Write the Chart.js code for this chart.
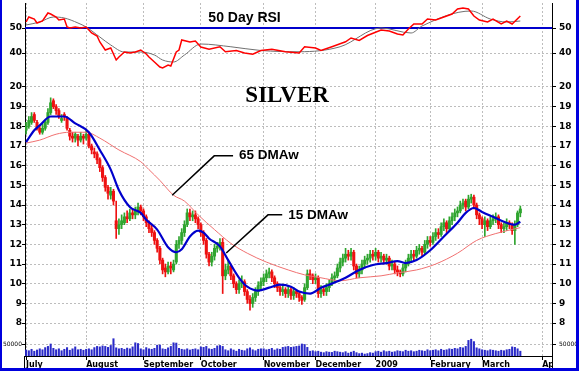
<!DOCTYPE html>
<html lang="en">
<head>
<meta charset="UTF-8">
<title>Silver</title>
<script src="https://cdn.jsdelivr.net/npm/chart.js@4"></script>
<style>
  html, body { margin: 0; padding: 0; background: #fff; }
  #wrap { position: relative; width: 579px; height: 371px; overflow: hidden; background: #fff; }
  #wrap canvas { position: absolute; left: 0; }
  #frame { position: absolute; left: 0; top: 0; width: 579px; height: 371px; box-sizing: border-box;
           border: 3px solid #0000dd; border-top-width: 0; border-left-width: 2px; pointer-events: none; }
</style>
</head>
<body>
<div id="wrap">
  <canvas id="rsiChart" style="top:3px" width="579" height="72"></canvas>
  <canvas id="priceChart" style="top:75px" width="579" height="263"></canvas>
  <canvas id="volChart" style="top:338px" width="579" height="33"></canvas>
  <div id="frame"></div>
</div>

<script>
  // ---------- data (x = trading day, 0 = 1 July 2008) ----------
  const monthStarts = [0, 22, 43, 64, 87, 106, 128, 148, 167, 189];
  const monthNames = ['July', 'August', 'September', 'October', 'November', 'December', '2009', 'February', 'March', 'Apr'];
  const priceTicks = [8, 9, 10, 11, 12, 13, 14, 15, 16, 17, 18, 19, 20];
  const rsiTicks = [40, 50];
  const volTicks = [50000];

  const opens = [
    17.8, 18.0, 18.2, 18.6, 18.2, 17.9, 17.7, 17.9, 18.2, 18.7,
    19.3, 19.0, 18.8, 18.3, 18.6, 18.4, 17.8, 17.5, 17.4, 17.5,
    17.3, 17.5, 17.4, 17.6, 17.0, 16.7, 16.6, 16.3, 15.9, 15.4,
    14.9, 14.5, 14.7, 13.2, 12.8, 13.0, 13.1, 13.4, 13.3, 13.6,
    13.5, 13.7, 13.9, 13.7, 13.4, 13.1, 12.8, 12.6, 12.2, 11.8,
    11.2, 10.8, 10.6, 10.9, 10.7, 11.1, 12.0, 12.2, 12.6, 13.0,
    13.6, 13.4, 13.5, 13.3, 13.0, 12.6, 12.2, 11.5, 11.1, 11.4,
    11.8, 11.9, 12.1, 10.4, 10.7, 10.9, 10.4, 10.0, 9.7, 10.0,
    10.1, 9.6, 9.2, 9.0, 9.3, 9.6, 9.9, 10.1, 10.3, 10.5,
    10.6, 10.3, 10.0, 9.8, 9.6, 9.7, 9.5, 9.7, 9.4, 9.6,
    9.5, 9.3, 9.2, 9.8, 10.5, 10.4, 10.2, 10.3, 9.5, 9.7,
    9.6, 9.8, 10.0, 10.3, 10.4, 10.8, 11.1, 11.3, 11.5, 11.4,
    11.6, 10.9, 10.5, 10.7, 11.0, 11.2, 11.3, 11.5, 11.4, 11.6,
    11.3, 11.4, 11.2, 11.3, 10.9, 11.0, 10.7, 10.6, 10.5, 10.8,
    11.0, 11.3, 11.5, 11.4, 11.7, 11.8, 11.6, 12.0, 12.2, 12.1,
    12.4, 12.6, 12.5, 12.9, 13.1, 12.8, 13.2, 13.4, 13.6, 13.7,
    14.0, 14.2, 13.9, 14.3, 14.4, 14.0, 13.5, 13.3, 13.0, 13.2,
    12.9, 13.2, 13.3, 13.4, 13.0, 12.8, 12.9, 13.1, 13.0, 12.7,
    13.0, 13.6
  ];
  const highs = [
    18.2, 18.5, 18.7, 18.7, 18.3, 18.0, 18.1, 18.3, 18.9, 19.45,
    19.4, 19.1, 18.9, 18.6, 18.7, 18.5, 17.9, 17.7, 17.7, 17.6,
    17.7, 17.6, 17.8, 17.7, 17.1, 16.9, 16.7, 16.4, 16.0, 15.5,
    15.0, 14.9, 14.8, 14.2, 13.3, 13.5, 13.6, 13.7, 13.8, 13.8,
    13.9, 14.1, 14.0, 13.8, 13.5, 13.2, 13.0, 12.7, 12.3, 11.9,
    11.3, 11.0, 11.1, 11.1, 11.2, 12.2, 12.4, 12.8, 13.2, 13.8,
    13.8, 13.7, 13.7, 13.4, 13.1, 12.7, 12.3, 11.6, 11.6, 12.0,
    12.1, 12.3, 12.3, 11.0, 11.2, 11.0, 10.5, 10.1, 10.2, 10.4,
    10.2, 9.7, 9.4, 9.5, 9.8, 10.1, 10.3, 10.5, 10.7, 10.8,
    10.7, 10.4, 10.1, 9.9, 9.9, 9.8, 9.9, 9.8, 9.8, 9.7,
    9.6, 9.4, 10.0, 10.7, 10.7, 10.5, 10.5, 10.4, 9.9, 9.8,
    10.0, 10.2, 10.5, 10.6, 11.0, 11.3, 11.5, 11.8, 11.7, 11.8,
    11.7, 11.0, 10.9, 11.2, 11.4, 11.5, 11.7, 11.7, 11.8, 11.7,
    11.6, 11.5, 11.5, 11.4, 11.2, 11.1, 10.9, 10.7, 11.0, 11.2,
    11.5, 11.7, 11.7, 11.9, 12.0, 11.9, 12.2, 12.4, 12.4, 12.6,
    12.8, 12.8, 13.1, 13.3, 13.2, 13.4, 13.6, 13.8, 13.9, 14.2,
    14.3, 14.3, 14.5, 14.55, 14.5, 14.1, 13.6, 13.4, 13.4, 13.3,
    13.4, 13.5, 13.6, 13.5, 13.1, 13.1, 13.3, 13.2, 13.1, 13.2,
    13.7, 13.95
  ];
  const lows = [
    17.6, 17.9, 18.1, 18.2, 17.8, 17.6, 17.6, 17.8, 18.1, 18.6,
    18.9, 18.6, 18.4, 18.2, 18.3, 17.8, 17.3, 17.2, 17.2, 17.0,
    17.2, 17.1, 17.3, 16.9, 16.6, 16.4, 16.1, 15.7, 15.2, 14.7,
    14.3, 14.3, 14.0, 12.3, 12.5, 12.8, 13.0, 13.1, 13.2, 13.3,
    13.3, 13.5, 13.5, 13.2, 12.9, 12.6, 12.4, 12.0, 11.6, 11.0,
    10.5, 10.35, 10.5, 10.5, 10.6, 11.0, 11.8, 12.0, 12.4, 12.9,
    13.2, 13.2, 13.1, 12.8, 12.4, 12.0, 11.3, 10.9, 10.9, 11.2,
    11.6, 11.7, 9.5, 10.2, 10.5, 10.2, 9.8, 9.5, 9.5, 9.8,
    9.4, 9.0, 8.65, 8.8, 9.1, 9.4, 9.7, 9.9, 10.1, 10.3,
    10.1, 9.8, 9.6, 9.4, 9.4, 9.3, 9.3, 9.2, 9.2, 9.3,
    9.1, 8.95, 9.1, 9.7, 10.2, 10.0, 10.0, 9.3, 9.3, 9.4,
    9.4, 9.6, 9.9, 10.1, 10.3, 10.6, 10.9, 11.1, 11.2, 11.2,
    10.7, 10.3, 10.3, 10.5, 10.8, 11.0, 11.1, 11.2, 11.2, 11.1,
    11.1, 11.0, 11.0, 10.7, 10.7, 10.5, 10.4, 10.35, 10.4, 10.6,
    10.9, 11.1, 11.2, 11.3, 11.5, 11.4, 11.5, 11.8, 11.9, 12.0,
    12.2, 12.3, 12.4, 12.7, 12.6, 12.7, 13.0, 13.2, 13.4, 13.6,
    13.8, 13.7, 13.8, 14.1, 13.8, 13.3, 13.0, 12.8, 12.4, 12.7,
    12.8, 13.0, 13.1, 12.8, 12.6, 12.6, 12.7, 12.8, 12.5, 12.0,
    12.9, 13.4
  ];
  const closes = [
    18.0, 18.3, 18.5, 18.3, 17.9, 17.7, 17.9, 18.2, 18.7, 19.2,
    19.0, 18.8, 18.5, 18.4, 18.5, 17.9, 17.5, 17.4, 17.6, 17.3,
    17.5, 17.4, 17.6, 17.0, 16.8, 16.6, 16.3, 15.9, 15.4, 14.9,
    14.6, 14.7, 14.2, 12.8, 13.0, 13.2, 13.4, 13.3, 13.6, 13.5,
    13.7, 13.9, 13.7, 13.4, 13.1, 12.8, 12.6, 12.2, 11.8, 11.2,
    10.7, 10.6, 10.9, 10.8, 11.0, 12.0, 12.2, 12.6, 13.0, 13.6,
    13.4, 13.5, 13.3, 13.0, 12.6, 12.2, 11.5, 11.1, 11.4, 11.8,
    11.9, 12.1, 10.4, 10.7, 10.9, 10.4, 10.0, 9.7, 10.0, 10.1,
    9.6, 9.2, 9.0, 9.3, 9.6, 9.9, 10.1, 10.3, 10.5, 10.6,
    10.3, 10.0, 9.8, 9.6, 9.7, 9.5, 9.7, 9.4, 9.6, 9.5,
    9.3, 9.15, 9.8, 10.5, 10.4, 10.2, 10.3, 9.5, 9.7, 9.6,
    9.8, 10.0, 10.3, 10.4, 10.8, 11.1, 11.3, 11.5, 11.4, 11.6,
    10.9, 10.5, 10.7, 11.0, 11.2, 11.3, 11.5, 11.4, 11.6, 11.3,
    11.4, 11.2, 11.3, 10.9, 11.0, 10.7, 10.6, 10.5, 10.8, 11.0,
    11.3, 11.5, 11.4, 11.7, 11.8, 11.6, 12.0, 12.2, 12.1, 12.4,
    12.6, 12.5, 12.9, 13.1, 12.8, 13.2, 13.4, 13.6, 13.7, 14.0,
    14.1, 13.9, 14.3, 14.4, 14.0, 13.5, 13.3, 13.0, 13.2, 12.9,
    13.2, 13.3, 13.4, 13.0, 12.8, 12.9, 13.1, 13.0, 12.7, 13.0,
    13.6, 13.8
  ];
  const volumes = [
    25000, 22000, 28000, 20000, 25000, 30000, 26000, 35000, 40000, 50000, 32000, 26000, 30000, 22000, 28000, 35000, 24000, 30000, 38000, 26000, 28000, 24000,
    28000, 30000, 26000, 35000, 40000, 38000, 42000, 40000, 36000, 44000, 72000, 34000, 30000, 32000, 28000, 33000, 30000, 38000, 55000, 52000, 30000, 26000,
    35000, 30000, 28000, 32000, 45000, 46000, 30000, 28000, 34000, 40000, 55000, 54000, 32000, 28000, 26000, 30000, 25000, 28000, 30000, 26000,
    38000, 36000, 40000, 30000, 28000, 32000, 42000, 44000, 40000, 26000, 22000, 30000, 25000, 20000, 28000, 24000, 22000, 30000, 34000, 26000, 22000, 28000, 30000,
    30000, 26000, 28000, 32000, 25000, 30000, 28000, 36000, 38000, 40000, 36000, 38000, 40000, 42000, 50000, 48000, 36000, 20000, 22000,
    18000, 20000, 16000, 14000, 18000, 16000, 15000, 20000, 18000, 16000, 14000, 18000, 12000, 16000, 20000, 14000, 10000, 12000, 8000, 10000, 14000, 12000,
    18000, 20000, 16000, 22000, 18000, 20000, 16000, 18000, 22000, 20000, 18000, 24000, 20000, 22000, 18000, 20000, 24000, 22000, 20000, 26000,
    22000, 24000, 26000, 22000, 28000, 24000, 26000, 30000, 28000, 32000, 30000, 36000, 34000, 40000, 65000, 70000, 60000, 34000, 30000,
    26000, 24000, 22000, 26000, 24000, 22000, 20000, 24000, 22000, 26000, 28000, 38000, 36000, 30000, 20000
  ];

  const dma15Days = [0, 3, 5, 9, 14, 18, 23, 27, 31, 34, 38, 42, 44, 48, 52, 55, 57, 60, 63, 65, 67, 71, 74, 78, 81, 85, 89, 93, 97, 100,
    104, 108, 111, 117, 122, 127, 132, 136, 139, 143, 148, 153, 158, 161, 164, 167, 171, 175, 179, 181];
  const dma15 = [17.2, 17.8, 18.05, 18.5, 18.5, 18.15, 17.7, 16.8, 15.8, 14.75, 13.9, 13.6, 13.25, 12.75, 11.85, 11.6, 11.75, 12.4, 12.7, 12.6,
    12.3, 11.9, 11.2, 10.3, 9.85, 9.65, 9.8, 9.95, 9.85, 9.6, 9.5, 9.8, 9.95, 10.3, 10.7, 10.95, 11.05, 11.15, 11.05, 11.2,
    11.7, 12.4, 13.1, 13.6, 13.85, 13.65, 13.4, 13.15, 13.0, 13.15];
  const dma65Days = [0, 5, 11, 16, 22, 27, 34, 42, 45, 49, 54, 58, 63, 69, 75, 81, 88, 96, 102, 108, 115, 122, 130, 136, 143, 150, 158, 165, 172, 181];
  const dma65 = [17.15, 17.3, 17.6, 17.7, 17.7, 17.4, 16.8, 16.2, 15.8, 15.25, 14.5, 14.2, 13.5, 12.75, 12.05, 11.55, 11.1, 10.7, 10.45, 10.3,
    10.15, 10.3, 10.4, 10.55, 10.7, 11.0, 11.55, 12.2, 12.55, 12.85];

  const rsiDays = [0, 1, 3, 4, 6, 8, 9, 11, 12, 14, 15, 16, 18, 20, 22, 24, 26, 27, 29, 31, 33, 34, 36, 38, 40, 42, 44, 45, 47, 49,
    50, 52, 53, 55, 56, 57, 60, 62, 64, 67, 71, 73, 77, 80, 83, 86, 90, 95, 100, 102, 106, 108, 112, 117, 119, 122, 125, 130, 133, 136,
    138, 140, 142, 145, 147, 150, 153, 156, 158, 160, 162, 164, 166, 169, 171, 174, 176, 178, 181];
  const rsi = [52.4, 54.4, 53.6, 52, 52.8, 56, 55.6, 54.4, 53.2, 53.6, 50.4, 50, 50.4, 50, 50.4, 48, 46.8, 44.4, 41.2, 42,
    37.2, 38.4, 40.4, 40, 40.4, 41.2, 39.6, 38.4, 36.4, 34.4, 34, 35.2, 34.8, 40.4, 41.2, 45.2, 44.4, 44.8, 42.4, 41.5,
    42.5, 40.5, 41, 40, 39.5, 41, 41.5, 40.5, 40, 42.5, 42, 41, 42.5, 44.5, 46, 45, 47, 49.2, 48.8, 47.6,
    47.2, 49.6, 51.6, 51.6, 53.6, 53.2, 54.4, 55.6, 57.6, 58, 57.6, 54.8, 53.2, 52.4, 53.6, 51.6, 52.8, 51.6, 54.8];
  const rsiAvgDays = [0, 5, 10, 14, 19, 22, 27, 31, 36, 42, 47, 50, 54, 58, 64, 75, 86, 100, 115, 130, 141, 145, 163, 170, 176, 181];
  const rsiAvg = [51.2, 52.4, 54.4, 54, 52, 50.4, 46.4, 43.2, 40.4, 40.4, 39.2, 37.2, 36.4, 39.2, 43.6, 42.5, 41, 40.5, 42.5, 50,
    48, 50.8, 56.8, 53.6, 52.4, 52.8];
  const rsiLevel = 50;

  // ---------- annotations ----------
  const leaderNotes = [
    { text: '65 DMAw', path: [[53.5, 14.5], [68.9, 16.5], [75.8, 16.5]], at: [78, 16.55] },
    { text: '15 DMAw', path: [[73.3, 11.56], [88.6, 13.5], [93.8, 13.5]], at: [96, 13.5] }
  ];
  const titleAt = [95.6, 19.54];
  const rsiTitleAt = [80, 54];

  // ---------- shared settings ----------
  const X_MIN = -0.4, X_MAX = 192.6;
  const GRID = '#bdbdbd';
  const UP = '#2fa52f', DOWN = '#ee1111';
  const axisFont = { family: '"DejaVu Sans", Verdana, sans-serif', size: 9, weight: 'bold' };
  const toPts = (xs, ys) => xs.map((d, i) => ({ x: d, y: ys[i] }));

  function xAxis(showLabels) {
    return {
      type: 'linear', min: X_MIN, max: X_MAX, offset: false,
      afterBuildTicks: s => { s.ticks = monthStarts.map(v => ({ value: v })); },
      afterFit: s => { s.height = showLabels ? 15 : 0; s.paddingLeft = 0; s.paddingRight = 0; },
      grid: { color: GRID, offset: false, drawTicks: showLabels, tickColor: '#000', tickLength: 4 },
      border: { display: showLabels, color: '#000', dash: [2, 2] },
      ticks: {
        display: showLabels, align: 'start', padding: 0, color: '#000', autoSkip: false, maxRotation: 0,
        font: { family: '"DejaVu Sans", Verdana, sans-serif', size: 8, weight: 'bold' },
        callback: (v, i) => monthNames[i]
      }
    };
  }

  function yAxis(pos, min, max, tickList, font, fmt) {
    return {
      position: pos, min, max,
      afterBuildTicks: s => { s.ticks = tickList.map(v => ({ value: v })); },
      afterFit: s => { s.width = pos === 'left' ? 25 : 27; s.paddingTop = 0; s.paddingBottom = 0; },
      grid: { color: GRID, drawOnChartArea: pos === 'left', tickColor: '#000', tickLength: pos === 'left' ? 3 : 4 },
      border: { color: '#000', dash: [2, 2] },
      ticks: { color: '#000', font, padding: pos === 'left' ? 0 : 3, callback: fmt || (v => v) }
    };
  }

  const baseOptions = scales => ({
    responsive: false, animation: false, events: [],
    layout: { padding: 0 },
    plugins: { legend: { display: false }, tooltip: { enabled: false } },
    scales
  });

  // ---------- RSI panel ----------
  const rsiTitle = {
    id: 'rsiTitle',
    afterDatasetsDraw(chart) {
      const { ctx, scales: { x, y } } = chart;
      ctx.save();
      ctx.fillStyle = '#000';
      ctx.font = 'bold 14px "Liberation Sans", Arial, sans-serif';
      ctx.textAlign = 'center';
      ctx.textBaseline = 'middle';
      ctx.fillText('50 Day RSI', x.getPixelForValue(rsiTitleAt[0]), y.getPixelForValue(rsiTitleAt[1]));
      ctx.restore();
    }
  };

  new Chart(document.getElementById('rsiChart'), {
    type: 'line',
    data: {
      datasets: [
        { data: toPts(rsiDays, rsi), borderColor: '#ff0000', borderWidth: 1.5, pointRadius: 0, tension: 0, order: 0 },
        { data: toPts(rsiAvgDays, rsiAvg), borderColor: '#707070', borderWidth: 1, pointRadius: 0, cubicInterpolationMode: 'monotone', order: 1 },
        { data: [{ x: X_MIN, y: rsiLevel }, { x: X_MAX, y: rsiLevel }], borderColor: '#0000cc', borderWidth: 2, pointRadius: 0, order: 2 }
      ]
    },
    options: baseOptions({
      x: xAxis(false),
      y: yAxis('left', 31.2, 60, rsiTicks, axisFont),
      y2: yAxis('right', 31.2, 60, rsiTicks, axisFont)
    }),
    plugins: [rsiTitle]
  });

  // ---------- price panel ----------
  const days = closes.map((c, i) => i);
  const candleColors = days.map(i => closes[i] >= opens[i] ? UP : DOWN);

  const priceNotes = {
    id: 'priceNotes',
    afterDatasetsDraw(chart) {
      const { ctx, scales: { x, y } } = chart;
      ctx.save();
      ctx.strokeStyle = '#000';
      ctx.fillStyle = '#000';
      ctx.lineWidth = 1.5;
      ctx.textBaseline = 'middle';
      leaderNotes.forEach(note => {
        ctx.beginPath();
        note.path.forEach(([d, v], k) => {
          const px = x.getPixelForValue(d), py = y.getPixelForValue(v);
          if (k) ctx.lineTo(px, py); else ctx.moveTo(px, py);
        });
        ctx.stroke();
        ctx.font = 'bold 13.5px "Liberation Sans", Arial, sans-serif';
        ctx.textAlign = 'left';
        ctx.fillText(note.text, x.getPixelForValue(note.at[0]), y.getPixelForValue(note.at[1]));
      });
      ctx.font = 'bold 23px "Liberation Serif", "Times New Roman", serif';
      ctx.textAlign = 'center';
      ctx.fillText('SILVER', x.getPixelForValue(titleAt[0]), y.getPixelForValue(titleAt[1]));
      ctx.restore();
    }
  };

  new Chart(document.getElementById('priceChart'), {
    type: 'line',
    data: {
      datasets: [
        { type: 'line', data: toPts(dma15Days, dma15), borderColor: '#0000cc', borderWidth: 2.2, pointRadius: 0,
          cubicInterpolationMode: 'monotone', order: 0 },
        { type: 'line', data: toPts(dma65Days, dma65), borderColor: '#f07070', borderWidth: 1, pointRadius: 0,
          cubicInterpolationMode: 'monotone', order: 1 },
        { type: 'bar', data: days.map(i => ({ x: i, y: [opens[i], closes[i]] })), backgroundColor: candleColors,
          barThickness: 2.4, grouped: false, order: 2 },
        { type: 'bar', data: days.map(i => ({ x: i, y: [lows[i], highs[i]] })), backgroundColor: candleColors,
          barThickness: 1, grouped: false, order: 3 }
      ]
    },
    options: baseOptions({
      x: xAxis(false),
      y: yAxis('left', 7.24, 20.61, priceTicks, axisFont),
      y2: yAxis('right', 7.24, 20.61, priceTicks, axisFont)
    }),
    plugins: [priceNotes]
  });

  // ---------- volume panel ----------
  const volFont = { family: '"DejaVu Sans", Verdana, sans-serif', size: 6 };
  const axisTail = {
    id: 'axisTail',
    afterDraw(chart) {
      const { ctx, chartArea: a } = chart;
      ctx.save();
      ctx.fillStyle = '#fff';
      ctx.fillRect(a.right + 1, a.bottom + 1, chart.width - a.right, chart.height - a.bottom);
      ctx.strokeStyle = '#000';
      ctx.lineWidth = 1;
      ctx.beginPath();
      ctx.moveTo(Math.round(a.left) - 0.5, a.bottom);
      ctx.lineTo(Math.round(a.left) - 0.5, chart.height);
      ctx.moveTo(Math.round(a.right) + 0.5, a.bottom);
      ctx.lineTo(Math.round(a.right) + 0.5, chart.height);
      ctx.stroke();
      ctx.restore();
    }
  };

  new Chart(document.getElementById('volChart'), {
    type: 'bar',
    data: {
      datasets: [
        { data: days.map(i => ({ x: i, y: volumes[i] })), backgroundColor: '#2a2ac8', barThickness: 1.4 }
      ]
    },
    options: baseOptions({
      x: xAxis(true),
      y: yAxis('left', 0, 75000, volTicks, volFont, v => String(v)),
      y2: yAxis('right', 0, 75000, volTicks, volFont, v => String(v))
    }),
    plugins: [axisTail]
  });
</script>
</body>
</html>
